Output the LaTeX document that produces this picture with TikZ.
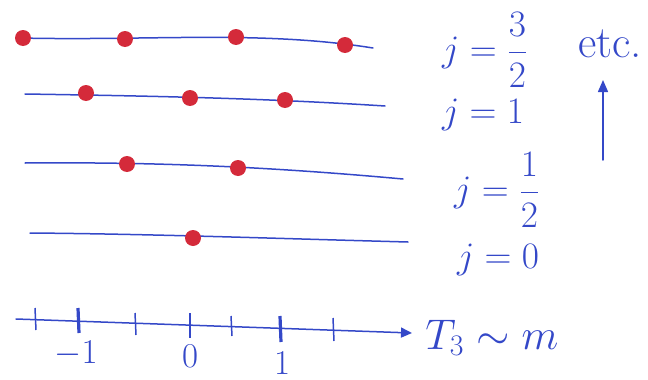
\documentclass[tikz,border=0pt]{standalone}
\usetikzlibrary{arrows.meta}
\definecolor{pen}{RGB}{52,72,200}
\definecolor{dotred}{RGB}{212,42,58}
\begin{document}
\begin{tikzpicture}[x=1pt,y=-1pt,
  line/.style={pen, line width=1.5pt, line cap=round},
  dot/.style={circle, fill=dotred, minimum width=16pt, minimum height=14pt, inner sep=0pt},
  tick/.style={pen, line width=1.5pt},
  boldtick/.style={pen, line width=3.2pt},
  lbl/.style={pen, font=\fontsize{24}{28}\selectfont, inner sep=0pt, scale=1.5},
  num/.style={pen, font=\fontsize{24}{28}\selectfont, inner sep=0pt, scale=1.4}]
\useasboundingbox (0,0) rectangle (648,380);
% j = 3/2
\draw[line] (20,38) .. controls (150,41) and (260,30) .. (373,48);
\node[dot] (a1) at (23,38) {};
\node[dot] (a2) at (125,39) {};
\node[dot] (a3) at (236,37) {};
\node[dot] (a4) at (345,45) {};
% j = 1
\draw[line] (25,94) .. controls (150,96) and (260,98) .. (385,106);
\node[dot] (b1) at (86,93) {};
\node[dot] (b2) at (190,98) {};
\node[dot] (b3) at (285,100) {};
% j = 1/2
\draw[line] (25,163) .. controls (150,162) and (260,166) .. (403,179);
\node[dot] (c1) at (127,164) {};
\node[dot] (c2) at (238,168) {};
% j = 0
\draw[line] (30,233) .. controls (150,234) and (260,238) .. (408,242);
\node[dot] (d1) at (193,238) {};
% axis
\coordinate (axl) at (16,319);
\coordinate (axr) at (412,333);
\draw[line, -{Triangle[length=11pt,width=10pt]}] (axl) -- (axr);
\draw[tick] (35,308) -- (36,330);
\draw[boldtick] (78,308) -- (79,333);
\draw[tick] (135,313) -- (136,335);
\draw[tick] (190,313) -- (190,338);
\draw[tick] (231,316) -- (232,336);
\draw[boldtick] (280,316) -- (281,342);
\draw[tick] (333,318) -- (334,341);
\node[num] (m1) at (76,354) {$-1$};
\node[num] (z0) at (190,356) {$0$};
\node[num] (p1) at (282,363) {$1$};
\node[lbl, anchor=west, scale=1.15] (t3) at (425,338) {$T_3\sim m$};
% labels
\node[lbl] (l32) at (485,50) {$j=\displaystyle\frac{3}{2}$};
\node[lbl] (l1) at (483,115) {$j=1$};
\node[lbl] (l12) at (497,190) {$j=\displaystyle\frac{1}{2}$};
\node[lbl] (l0) at (498,260) {$j=0$};
\node[lbl, scale=1.25] (etc) at (610,44) {etc.};
\coordinate (up0) at (603,160);
\coordinate (up1) at (603,80);
\draw[line, -{Triangle[length=12pt,width=10pt]}] (up0) -- (up1);
\end{tikzpicture}
\end{document}
